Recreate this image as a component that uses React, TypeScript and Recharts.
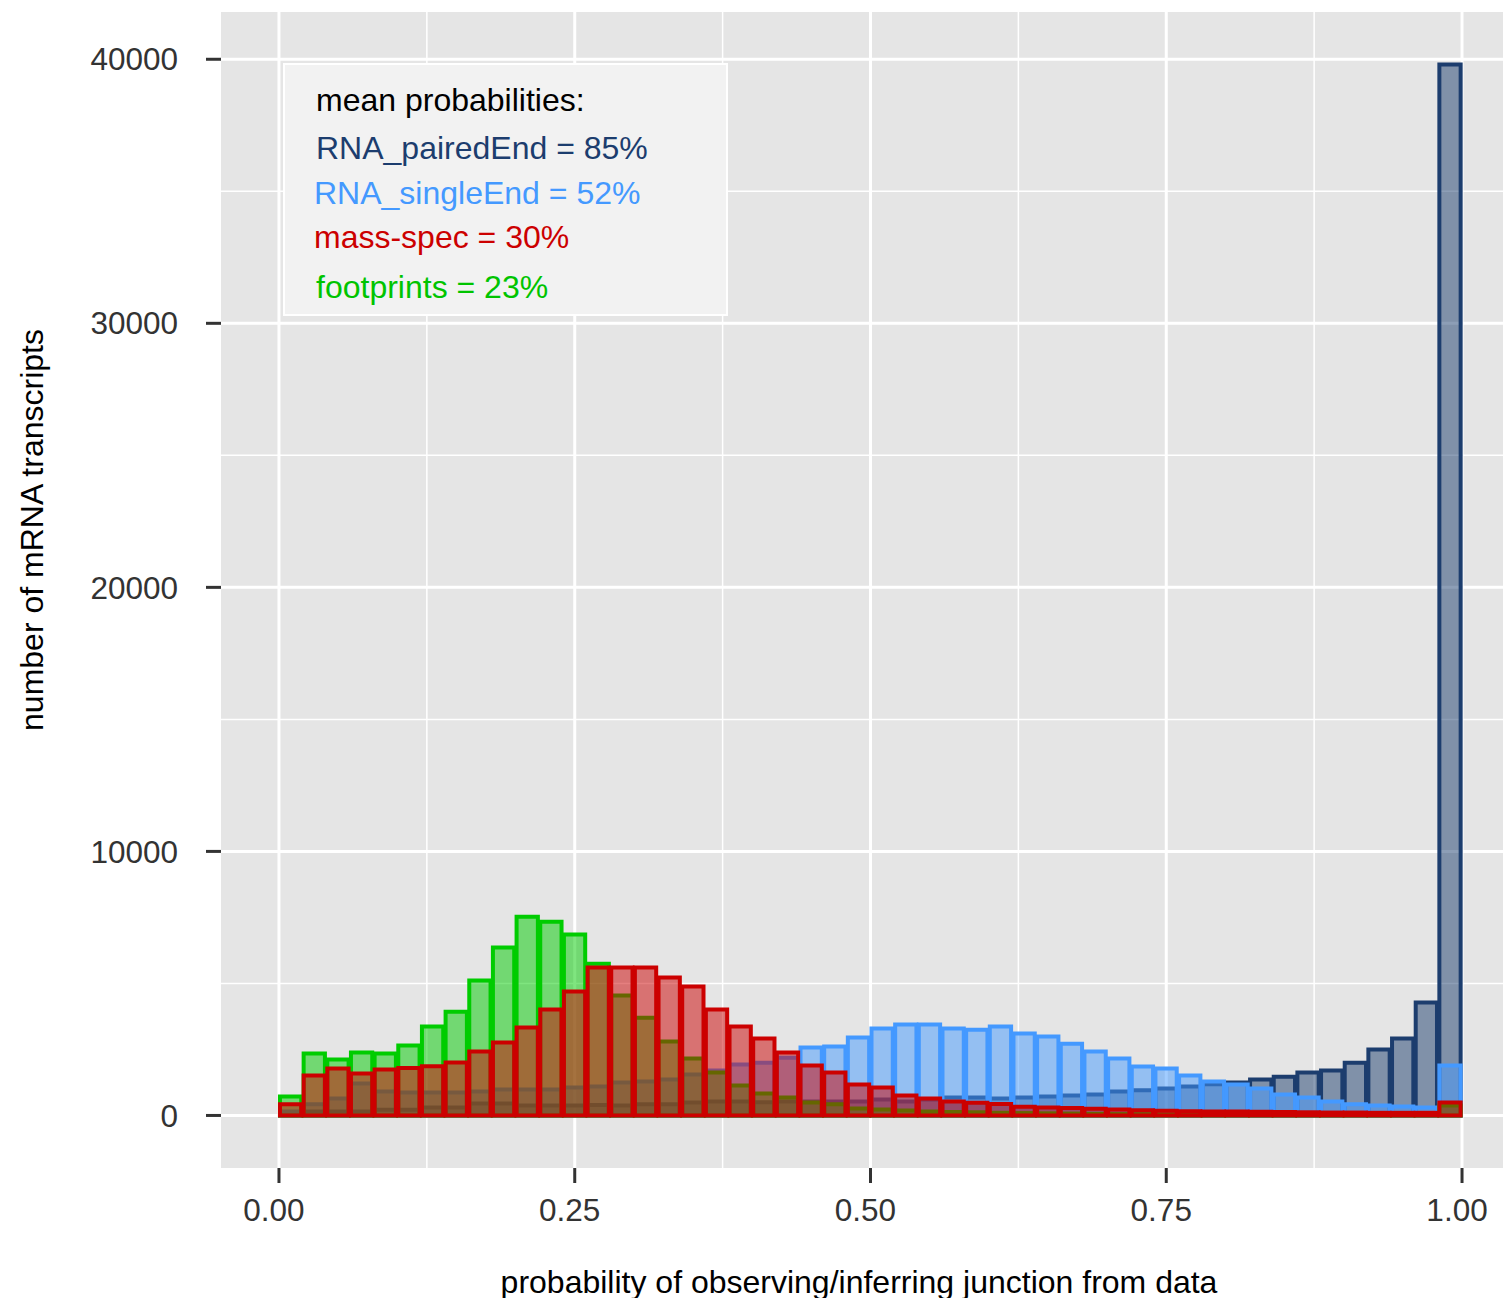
import React from 'react';
import { ComposedChart, Bar, XAxis, YAxis, CartesianGrid } from 'recharts';

// histogram bins (width 0.02), centres
const BIN_MID = [
  0.01, 0.03, 0.05, 0.07, 0.09, 0.11, 0.13, 0.15, 0.17, 0.19,
  0.21, 0.23, 0.25, 0.27, 0.29, 0.31, 0.33, 0.35, 0.37, 0.39,
  0.41, 0.43, 0.45, 0.47, 0.49, 0.51, 0.53, 0.55, 0.57, 0.59,
  0.61, 0.63, 0.65, 0.67, 0.69, 0.71, 0.73, 0.75, 0.77, 0.79,
  0.81, 0.83, 0.85, 0.87, 0.89, 0.91, 0.93, 0.95, 0.97, 0.99,
];
const BIN_W = 0.02;

const PAIRED_END = [
  50, 150, 150, 150, 220, 220, 300, 300, 450, 450,
  380, 380, 380, 400, 380, 420, 420, 490, 530, 530,
  500, 530, 530, 530, 530, 600, 530, 600, 680, 680,
  640, 680, 720, 760, 790, 910, 950, 1020, 1100, 1180,
  1250, 1360, 1470, 1630, 1700, 2000, 2500, 2910, 4280, 39800,
];
const SINGLE_END = [
  150, 420, 640, 1210, 910, 870, 870, 870, 910, 980,
  980, 980, 1060, 1100, 1250, 1290, 1360, 1550, 1700, 1930,
  2000, 2190, 2570, 2610, 2950, 3290, 3440, 3440, 3290, 3250,
  3370, 3100, 2990, 2720, 2420, 2160, 1850, 1780, 1510, 1290,
  1170, 1020, 790, 680, 530, 420, 380, 340, 300, 1890,
];
const FOOTPRINTS = [
  720, 2350, 2120, 2380, 2350, 2650, 3370, 3930, 5110, 6360,
  7530, 7340, 6850, 5750, 4540, 3700, 2800, 2160, 1630, 1130,
  830, 680, 490, 420, 260, 230, 190, 150, 130, 120,
  100, 90, 80, 70, 60, 50, 50, 40, 40, 30,
  30, 30, 20, 20, 20, 20, 20, 20, 30, 380,
];
const MASS_SPEC = [
  420, 1510, 1780, 1590, 1740, 1800, 1860, 2010, 2420, 2760,
  3330, 4010, 4690, 5600, 5600, 5600, 5220, 4880, 4010, 3370,
  2910, 2380, 1890, 1630, 1170, 1060, 760, 640, 530, 480,
  430, 330, 300, 280, 250, 230, 200, 180, 160, 150,
  150, 140, 130, 120, 110, 110, 100, 100, 100, 490,
];

const X_TICKS = [0, 0.25, 0.5, 0.75, 1];
const X_MINOR = [0.125, 0.375, 0.625, 0.875];
const Y_TICKS = [0, 10000, 20000, 30000, 40000];
const Y_MINOR = [5000, 15000, 25000, 35000];

const LEGEND_LINES = [
  { text: 'mean probabilities:', color: '#000000' },
  { text: 'RNA_pairedEnd = 85%', color: '#1c3d6e' },
  { text: 'RNA_singleEnd = 52%', color: '#4499ff' },
  { text: 'mass-spec = 30%', color: '#cc0000' },
  { text: 'footprints = 23%', color: '#00c400' },
];

const FONT = '"Liberation Sans", Arial, Helvetica, sans-serif';
const FS = 32;
const W = 1503;
const H = 1290;
const M = { top: 4, right: 0, bottom: 0, left: 0 };
const Y_AXIS_W = 213;
const X_AXIS_H = 130;
const X_DOMAIN: [number, number] = [-0.049, 1.0414];
const Y_DOMAIN: [number, number] = [-1990, 41790];

const PLOT_W = W - M.left - M.right - Y_AXIS_W;
const BAR_PX = (BIN_W * PLOT_W) / (X_DOMAIN[1] - X_DOMAIN[0]);

const data = BIN_MID.map((mid, i) => ({
  mid,
  paired: PAIRED_END[i],
  single: SINGLE_END[i],
  foot: FOOTPRINTS[i],
  mass: MASS_SPEC[i],
}));

const SERIES = [
  { key: 'paired', axis: 0, color: '#1c3d6e' },
  { key: 'single', axis: 'b', color: '#4499ff' },
  { key: 'foot', axis: 'c', color: '#00cc00' },
  { key: 'mass', axis: 'd', color: '#cc0000' },
];

const tickStyle = { fontSize: FS - 0.5, fill: '#333333', fontFamily: FONT };

const XTick = (p: any) => (
  <text x={p.x - 5} y={p.y} dy="0.71em" textAnchor="middle" {...tickStyle}>
    {Number(p.payload.value).toFixed(2)}
  </text>
);

export default function App() {
  return (
    <div style={{ position: 'relative', width: W, height: H, fontFamily: FONT }}>
      <ComposedChart width={W} height={H} data={data} margin={M}>
        <CartesianGrid
          fill="#e5e5e5" fillOpacity={1} stroke="#ffffff" strokeWidth={1.5}
          horizontalValues={Y_MINOR} verticalValues={X_MINOR}
        />
        <CartesianGrid
          stroke="#ffffff" strokeWidth={3}
          horizontalValues={Y_TICKS} verticalValues={X_TICKS}
        />
        <XAxis
          xAxisId={0} dataKey="mid" type="number" domain={X_DOMAIN} allowDataOverflow
          ticks={X_TICKS} interval={0}
          height={X_AXIS_H} axisLine={false} tickSize={15} tickMargin={16}
          tickLine={{ stroke: '#333333', strokeWidth: 3 }} tick={XTick}
        />
        {['b', 'c', 'd'].map(id => (
          <XAxis key={id} xAxisId={id} dataKey="mid" type="number" domain={X_DOMAIN} allowDataOverflow hide />
        ))}
        <YAxis
          type="number" domain={Y_DOMAIN} allowDataOverflow ticks={Y_TICKS} interval={0}
          width={Y_AXIS_W} axisLine={false} tickSize={15} tickMargin={28}
          tickLine={{ stroke: '#333333', strokeWidth: 3 }} tick={tickStyle}
        />
        {SERIES.map(s => (
          <Bar
            key={s.key} dataKey={s.key} xAxisId={s.axis} barSize={BAR_PX}
            fill={s.color} fillOpacity={0.5} stroke={s.color} strokeWidth={4}
            isAnimationActive={false}
          />
        ))}
      </ComposedChart>

      {/* legend box */}
      <div style={{
        position: 'absolute', left: 275, top: 55, width: 445, height: 253,
        background: '#f2f2f2', border: '2px solid #ffffff', boxSizing: 'border-box',
      }}>
        {LEGEND_LINES.map((l, i) => (
          <div key={l.text} style={{
            position: 'absolute', left: i === 0 || i === 1 || i === 4 ? 31 : 29,
            top: [37, 85, 130, 174, 224][i] - 20,
            fontSize: FS, lineHeight: '36px', color: l.color, whiteSpace: 'nowrap',
          }}>{l.text}</div>
        ))}
      </div>

      {/* axis titles */}
      <div style={{
        position: 'absolute', left: 24, top: 522, transform: 'translate(-50%, -50%) rotate(-90deg)',
        fontSize: FS, lineHeight: '36px', color: '#000', whiteSpace: 'nowrap',
      }}>number of mRNA transcripts</div>
      <div style={{
        position: 'absolute', left: 851, top: 1274, transform: 'translate(-50%, -50%)',
        fontSize: FS, lineHeight: '36px', color: '#000', whiteSpace: 'nowrap',
      }}>probability of observing/inferring junction from data</div>
    </div>
  );
}
